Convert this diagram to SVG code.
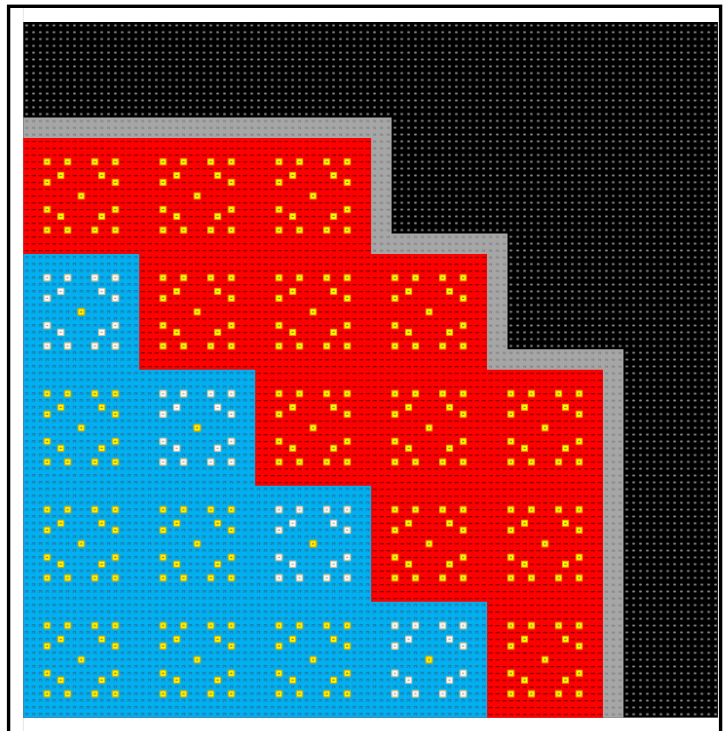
<svg xmlns="http://www.w3.org/2000/svg" xmlns:xlink="http://www.w3.org/1999/xlink" width="726" height="731" viewBox="0 0 726 731">
<style>
.ysq{fill:#ffff00;stroke:#e0aa00;stroke-width:1}
.wsq{fill:#ffffff;stroke:#c4c4c4;stroke-width:1}
</style>
<defs>
<pattern id="gBlack" patternUnits="userSpaceOnUse" x="23.3" y="22" width="6.82" height="6.82">
<rect width="6.82" height="6.82" fill="#000"/>
<rect x="2.1" y="2.5" width="2.6" height="1.8" rx="0.6" fill="#8a8a8a"/>
</pattern>
<pattern id="gGray" patternUnits="userSpaceOnUse" x="23.3" y="22" width="6.82" height="6.82">
<rect width="6.82" height="6.82" fill="#a6a6a6"/>
<path d="M1.8 2.6h3.2v0.8h-3.2zM2.4 3.6h1v1h-1zM4 3.6h1v1h-1z" fill="#7a7a7a"/>
</pattern>
<pattern id="gRed" patternUnits="userSpaceOnUse" x="23.3" y="22" width="6.82" height="6.82">
<rect width="6.82" height="6.82" fill="#ff0000"/>
<path d="M1.5 3.1h1.4v1h-1.4zM3.3 2.9h2.2v1.2h-2.2z" fill="#5a0000"/>
</pattern>
<pattern id="gBlue" patternUnits="userSpaceOnUse" x="23.3" y="22" width="6.82" height="6.82">
<rect width="6.82" height="6.82" fill="#00b0f0"/>
<path d="M1.7 2.3h3.4v0.9h-3.4zM4.2 3.2h0.9v1.5h-0.9zM1.7 3.7h1v1h-1z" fill="#2b6a94"/>
</pattern>
<g id="ysg"><rect class="ysq" width="6" height="6"/><rect x="1.9" y="2.4" width="2.2" height="1.2" fill="#8a6a00"/></g>
<g id="wsg"><rect class="wsq" width="6" height="6"/><rect x="1.9" y="2.4" width="2.2" height="1.2" fill="#9a9a9a"/></g>
<pattern id="blkY" patternUnits="userSpaceOnUse" x="23.3" y="22" width="115.94" height="115.94">
<use xlink:href="#ysg" x="20.87" y="20.87"/><use xlink:href="#ysg" x="41.33" y="20.87"/><use xlink:href="#ysg" x="68.61" y="20.87"/><use xlink:href="#ysg" x="89.07" y="20.87"/>
<use xlink:href="#ysg" x="34.51" y="34.51"/><use xlink:href="#ysg" x="75.43" y="34.51"/>
<use xlink:href="#ysg" x="20.87" y="41.33"/><use xlink:href="#ysg" x="89.07" y="41.33"/>
<use xlink:href="#ysg" x="54.97" y="54.97"/>
<use xlink:href="#ysg" x="20.87" y="68.61"/><use xlink:href="#ysg" x="89.07" y="68.61"/>
<use xlink:href="#ysg" x="34.51" y="75.43"/><use xlink:href="#ysg" x="75.43" y="75.43"/>
<use xlink:href="#ysg" x="20.87" y="89.07"/><use xlink:href="#ysg" x="41.33" y="89.07"/><use xlink:href="#ysg" x="68.61" y="89.07"/><use xlink:href="#ysg" x="89.07" y="89.07"/>
</pattern>
<pattern id="blkW" patternUnits="userSpaceOnUse" x="23.3" y="22" width="115.94" height="115.94">
<use xlink:href="#wsg" x="20.87" y="20.87"/><use xlink:href="#wsg" x="41.33" y="20.87"/><use xlink:href="#wsg" x="68.61" y="20.87"/><use xlink:href="#wsg" x="89.07" y="20.87"/>
<use xlink:href="#wsg" x="34.51" y="34.51"/><use xlink:href="#wsg" x="75.43" y="34.51"/>
<use xlink:href="#wsg" x="20.87" y="41.33"/><use xlink:href="#wsg" x="89.07" y="41.33"/>
<use xlink:href="#ysg" x="54.97" y="54.97"/>
<use xlink:href="#wsg" x="20.87" y="68.61"/><use xlink:href="#wsg" x="89.07" y="68.61"/>
<use xlink:href="#wsg" x="34.51" y="75.43"/><use xlink:href="#wsg" x="75.43" y="75.43"/>
<use xlink:href="#wsg" x="20.87" y="89.07"/><use xlink:href="#wsg" x="41.33" y="89.07"/><use xlink:href="#wsg" x="68.61" y="89.07"/><use xlink:href="#wsg" x="89.07" y="89.07"/>
</pattern>
</defs>
<rect width="726" height="731" fill="#fff"/>
<line x1="23.3" y1="8" x2="23.3" y2="731" stroke="#e4e4e4" stroke-width="1"/>
<g id="grid">
<rect id="black-area" x="23.3" y="22" width="694.6" height="695.64" fill="url(#gBlack)"/>
<polygon id="gray-border" points="23.3,117.48 391.58,117.48 391.58,233.42 507.52,233.42 507.52,349.36 623.46,349.36 623.46,717.64 23.3,717.64" fill="url(#gGray)"/>
<polygon id="red-area" points="23.3,137.94 371.12,137.94 371.12,253.88 487.06,253.88 487.06,369.82 603,369.82 603,717.64 23.3,717.64" fill="url(#gRed)"/>
<polygon id="blue-area" points="23.3,253.88 139.24,253.88 139.24,369.82 255.18,369.82 255.18,485.76 371.12,485.76 371.12,601.7 487.06,601.7 487.06,717.64 23.3,717.64" fill="url(#gBlue)"/>
<polygon id="yellow-marks" points="23.3,137.94 371.12,137.94 371.12,253.88 487.06,253.88 487.06,369.82 603,369.82 603,717.64 23.3,717.64" fill="url(#blkY)"/>
<g id="diagonal-blocks" fill="url(#blkW)">
<rect x="23.3" y="253.88" width="115.94" height="115.94"/>
<rect x="139.24" y="369.82" width="115.94" height="115.94"/>
<rect x="255.18" y="485.76" width="115.94" height="115.94"/>
<rect x="371.12" y="601.7" width="115.94" height="115.94"/>
</g>
</g>
<rect id="frame" x="8.6" y="6.3" width="712" height="800" fill="none" stroke="#000" stroke-width="3.4"/>
</svg>
